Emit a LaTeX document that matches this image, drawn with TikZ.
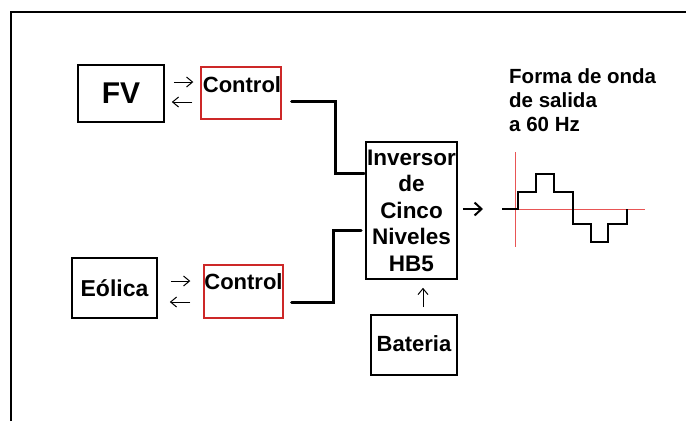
\documentclass[tikz,border=0pt]{standalone}
\usepackage{fontspec}
\setmainfont{Liberation Sans}
\usetikzlibrary{calc,arrows.meta}
\definecolor{boxred}{RGB}{205,40,40}
\definecolor{axisred}{RGB}{232,85,85}
\begin{document}
\begin{tikzpicture}[x=1pt,y=-1pt,
  blkbox/.style={draw=black,line width=1.6pt,inner sep=0pt,font=\bfseries\fontsize{22.5}{26.5}\selectfont},
  redbox/.style={draw=boxred,line width=1.4pt,inner sep=0pt,minimum width=80pt,minimum height=52pt},
  lbl/.style={inner sep=0pt,font=\bfseries\fontsize{22}{26.5}\selectfont},
  wire/.style={line width=3pt,line cap=round},
  thinarrow/.style={line width=1pt,-{Straight Barb[length=6pt,width=10pt,line width=1pt]}},
  bigarrow/.style={line width=2pt,-{Straight Barb[length=7pt,width=13pt,line width=2pt]}},
  redline/.style={draw=axisred,line width=1pt}
]
\useasboundingbox (0,0) rectangle (686,421);
% outer frame (only left and top visible)
\draw[line width=2pt] (11,421) -- (11,12) -- (686,12);

% boxes
\node[blkbox,minimum width=86pt,minimum height=57pt,font=\bfseries\fontsize{30}{34}\selectfont] (fv) at (121,93.5) {FV};
\node[blkbox,minimum width=85pt,minimum height=60pt,font=\bfseries\fontsize{23}{27}\selectfont] (eol) at (114.5,288) {Eólica};
\node[redbox] (c1) at (241,93) {};
\node[lbl] (c1t) at (242,85) {Control};
\node[redbox,minimum width=79pt,minimum height=53pt] (c2) at (243.5,291.5) {};
\node[lbl] (c2t) at (243.5,282) {Control};
\node[blkbox,minimum width=91pt,minimum height=137pt,align=center] (inv) at (411.5,210.5) {Inversor\\de\\Cinco\\Niveles\\HB5};
\node[blkbox,minimum width=86pt,minimum height=60pt,font=\bfseries\fontsize{22}{26}\selectfont] (bat) at (414,345) {\raisebox{3pt}{Bateria}};

% title of waveform
\node[lbl,font=\bfseries\fontsize{20.5}{24}\selectfont,align=left,anchor=north west] (title) at (509,68) {Forma de onda\\de salida\\a 60 Hz};

% small arrows between sources and controls
\draw[thinarrow] ($(fv.east)+(9,-11.5)$) -- ($(c1.west)+(-7,-11)$);
\draw[thinarrow] ($(c1.west)+(-8,9)$) -- ($(fv.east)+(7,8.5)$);
\draw[thinarrow] ($(eol.east)+(13,-7)$) -- ($(c2.west)+(-13,-10.5)$);
\draw[thinarrow] ($(c2.west)+(-13,10.5)$) -- ($(eol.east)+(12,14)$);

% wires to inverter
\draw[wire] ($(c1.east)+(10,8)$) -| (335,173) -- ($(inv.west)+(-1,-37.5)$);
\draw[wire] ($(c2.east)+(8,10.5)$) -| (333,230) -- ($(inv.west)+(-4,19.5)$);

% battery arrow
\draw[thinarrow] ($(bat.north)+(9,-7)$) -- ($(inv.south)+(11.5,8)$);

% output arrow
\coordinate (wavein) at (483,209);
\draw[bigarrow] ($(inv.east)+(5,-1.5)$) -- (wavein);

% waveform axes
\draw[redline] (515,152) -- (515,247);
\draw[redline] (502,209) -- (645,209);
% stepped waveform
\draw[line width=1.4pt] (502,209) -- (518,209) -- (518,192) -- (536,192) -- (536,174) -- (554,174) -- (554,192) -- (573,192) -- (573,224) -- (591,224) -- (591,242) -- (608,242) -- (608,224) -- (627,224) -- (627,209);
\end{tikzpicture}
\end{document}
